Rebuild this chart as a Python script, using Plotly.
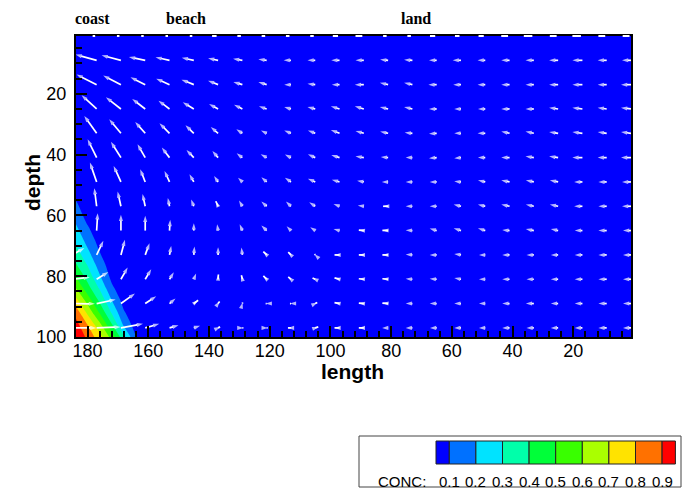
import plotly.graph_objects as go

# ---------------- data ----------------
# vector nodes (length, depth)
vec_x = [185, 177, 169, 161, 153, 145, 137, 129, 121, 113, 105, 97, 89, 81,
         73, 65, 57, 49, 41, 33, 25, 17, 9, 1]
vec_y = [1, 9, 17, 25, 33, 41, 49, 57, 65, 73, 81, 89, 97]

# velocity component along "length" (positive = towards larger length)
vel_x = [
    [4, 4, 4, 4, 4, 4, 6, 5, 5, 5, 5, 6.7, 8.3, 5, 5, 6.7, 6, 6.7, 8.3, 10, 8.3, 10, 8.3, 8.3],
    [21, 21, 19.3, 16.3, 14, 12, 10, 9.3, 8.3, 7.3, 7.7, 8.3, 8.3, 8, 8.3, 7.7, 8.3, 7.7, 8.3, 8.3, 9, 10, 9, 9],
    [20, 20, 17.7, 14.7, 13.3, 12.3, 10, 9, 8.3, 6.7, 7.7, 7.7, 9, 8.3, 8.3, 8.3, 7.7, 7.7, 8.3, 8.3, 9, 10, 9, 10],
    [15, 15, 15, 13, 11, 11, 9, 8.3, 7.7, 6.7, 7.7, 8.7, 9, 8.3, 8.3, 7.7, 6.7, 7.3, 8.3, 8.3, 9, 10, 9, 10],
    [12, 12.3, 11.7, 10, 10, 8.3, 7.3, 6, 5.7, 6.7, 7.3, 8.7, 8.3, 8, 7.7, 7.7, 6.7, 7.7, 8.3, 8.3, 9, 10, 9, 10],
    [9, 9, 10, 7.7, 7.7, 7.3, 5.7, 5.7, 6, 6, 7.3, 8.3, 8.3, 7.3, 6.7, 7.7, 6.7, 7.3, 8.3, 8.3, 9, 10, 9, 10],
    [6, 6.7, 7.3, 5, 5, 4.3, 4, 4.3, 5.3, 6, 7.3, 7.7, 6.7, 6.3, 6.7, 7, 6.7, 7.3, 8.3, 8, 8.3, 8.3, 8.3, 9],
    [3, 2.3, 3.3, 2.7, 1.7, 2.7, 2.3, 3.3, 5.3, 5, 6, 6, 6, 5, 6.7, 7, 7.3, 7.3, 8.3, 8, 8.3, 8.3, 8.3, 9],
    [1, -1, 0, 0, -0.7, 0, 1, 2.7, 5.3, 4.3, 5, 6, 5, 5.7, 6.7, 7, 7.3, 7.3, 7.3, 8, 7.3, 7.7, 8.3, 8],
    [-12, -6.7, -4, -4.3, -1.7, -0.7, 0, 1, 3.3, 2.7, 0.7, 5, 5, 5.7, 6.7, 7, 6.7, 6.3, 7.3, 7.3, 7.3, 7.7, 8.3, 8],
    [-17.5, -11.7, -6.7, -6, -4.3, -2.3, -0.3, 1, 3.3, 2.7, 2.7, 5, 5, 5.7, 6.7, 7, 6.7, 6.3, 7.3, 7.3, 7.3, 7.7, 8.3, 8],
    [-22.5, -19, -14, -11, -6, -4.3, -1.5, -0.3, 1, 1, -2, 5, 5, 5.7, 6.7, 7, 6.7, 6.3, 7.3, 8, 7.3, 7.7, 8.3, 8],
    [-24, -24, -22, -14, -9, -6.3, -2, -1, -1, 3, -3, 5, 5, 6, 6.7, 6.7, 6.7, 6.3, 7.3, 7.3, 7.3, 7.7, 8.3, 8],
]
# velocity component along "depth" (positive = deeper)
vel_z = [
    [0] * 24,
    [-6, -5.7, -5, -3.3, -3, -2.5, -2, -1.5, -1, 0, 0, 0, 0, -0.7, -0.5, 0, 0, 0, 0, 0, 0, 0, 0, 0],
    [-10, -10, -9, -7.3, -6, -5, -4, -2.7, -2.7, 0, -1, 0, 0, -2, -2, 0, 0, 0, 0, 0, 0, 0, 0, 0],
    [-14, -13.7, -11.7, -10, -8.3, -6.7, -5, -4.3, -2.7, -2, -2, -2.7, -2.7, -2, -2, 0, 0, 0, 0, 0, -1.3, -1.3, -1.3, -1.3],
    [-17, -17.3, -14, -11.3, -10, -8, -6.3, -4, -2.7, -2.7, -2.7, -3.3, -2.3, -1.7, -0.7, 0.5, 0, 0, -1.7, -1.7, -1.3, -1.3, -1.3, -1.3],
    [-18, -18.3, -15.7, -13.3, -10, -7.7, -6.7, -4.3, -3.3, -3, -3.3, -2.7, -1.3, -0.7, 0, 0.7, 0.7, 0, 0, -1.3, -1.3, 0, 0, 0],
    [-19, -19.3, -16, -12.7, -11, -7.7, -6, -4.3, -4.7, -4.3, -3.3, -2.3, -1.3, 0, 0, 0, -0.7, -1.7, -1.7, -1.7, -1.7, 0, 0, 0],
    [-17, -18, -14.7, -12.3, -8.3, -6.7, -5, -5.7, -4.7, -4.7, -4, -2.3, -0.7, 0, 0, 0, -1.7, -1.7, -1.7, -1.7, -1.7, 0, 0, 0],
    [-15, -17.3, -15.7, -14.7, -10.7, -7.3, -6.3, -6.3, -5, -4.3, -3.3, -1.7, -0.5, -0.3, -0.3, -2, -2.3, -2.3, -0.7, -1.7, -1.7, 0, 0, 0],
    [-7, -14, -15, -11.7, -9, -8.3, -7.7, -7.3, -3.3, -2.7, -0.7, 0, 0, 0, -0.5, 0, -1, 0, 0, 0, 0, 0, 0, 0],
    [-2, -7.3, -11.7, -10, -7, -5.7, -4.7, -4, -3.3, -2.3, -1.3, -1.3, -0.5, -0.5, -0.5, -0.5, -1.3, 0, 0, 0, 0, 0, 0, 0],
    [0.3, -4, -10, -7.3, -5, -3.3, -2, -1, 0, 0, -1, -1, -0.5, -0.5, 0, 0, 0, 0, 0, 0, 0, 0, 0, 0],
    [0, -1, -4, -4, -2.5, -2, -1, 0, 0, 0, -1, 0, 0, 0, 0, 0, 0, 0, 0, 0, 0, 0, 0, 0],
]

# concentration field (coarse grid)
conc_x = [1, 160, 164, 168, 172, 176, 180, 184]
conc_y = [1, 48, 52, 56, 60, 64, 68, 72, 76, 80, 84, 88, 92, 96, 100]
conc = [
    [0, 0, 0, 0, 0, 0, 0, 0],
    [0, 0, 0, 0, 0, 0, 0, 0.02],
    [0, 0, 0, 0, 0, 0, 0.01, 0.06],
    [0, 0, 0, 0, 0, 0, 0.03, 0.115],
    [0, 0, 0, 0, 0, 0.01, 0.06, 0.165],
    [0, 0, 0, 0, 0, 0.03, 0.11, 0.22],
    [0, 0, 0, 0, 0.01, 0.06, 0.16, 0.28],
    [0, 0, 0, 0, 0.02, 0.10, 0.22, 0.34],
    [0, 0, 0, 0.01, 0.04, 0.15, 0.29, 0.41],
    [0, 0, 0, 0.02, 0.07, 0.21, 0.36, 0.50],
    [0, 0, 0.01, 0.03, 0.12, 0.29, 0.44, 0.61],
    [0, 0, 0.02, 0.06, 0.20, 0.38, 0.56, 0.74],
    [0, 0, 0.03, 0.11, 0.29, 0.49, 0.68, 0.87],
    [0, 0.01, 0.05, 0.18, 0.41, 0.63, 0.80, 0.945],
    [0, 0.02, 0.10, 0.32, 0.56, 0.74, 0.875, 1.0],
]

level_colors = ['#0000FF', '#0071FF', '#00E3FF', '#00FFAA', '#00FF39',
                '#39FF00', '#AAFF00', '#FFE300', '#FF7100', '#FF0000']
level_labels = ['0.1', '0.2', '0.3', '0.4', '0.5', '0.6', '0.7', '0.8', '0.9']
top_labels = ['coast', 'beach', 'land']

# ---------------- layout geometry ----------------
W, H = 683, 491
L, R, T, B = 76, 52, 36, 154
PW, PH = W - L - R, H - T - B


def pxx(x):
    return (x - L) / PW


def pxy(y):
    return (H - B - y) / PH


SANS = 'Liberation Sans, Arial, sans-serif'
SERIF = 'Liberation Serif, Times New Roman, serif'
arrow_scale = 0.33

fig = go.Figure()

# flooded contour
fig.add_trace(go.Contour(
    x=conc_x, y=conc_y, z=conc,
    contours=dict(start=0.1, end=0.9, size=0.1, coloring='fill', showlines=False),
    colorscale=[[k / 9, c] for k, c in enumerate(level_colors)],
    line=dict(width=0, smoothing=0.6),
    showscale=False, hoverinfo='skip'))

# vector arrows (rows below the top boundary)
xs, ys, sizes = [], [], []
for j in range(1, len(vec_y)):
    for i, xv in enumerate(vec_x):
        u = vel_x[j][i]
        w = vel_z[j][i]
        xs += [xv, xv + arrow_scale * u, None]
        ys += [vec_y[j], vec_y[j] + arrow_scale * w, None]
        sizes += [0, 6.5, 0]
fig.add_trace(go.Scatter(
    x=xs, y=ys, mode='lines+markers',
    line=dict(color='white', width=1.7),
    marker=dict(symbol='arrow', size=sizes, angleref='previous', color='white',
                line=dict(width=0)),
    hoverinfo='skip', showlegend=False))

# top boundary row, drawn over the frame
for i, xv in enumerate(vec_x):
    fig.add_annotation(x=xv + arrow_scale * vel_x[0][i], y=vec_y[0], ax=xv, ay=vec_y[0],
                       xref='x', yref='y', axref='x', ayref='y', text='',
                       showarrow=True, arrowhead=0, arrowwidth=2.2,
                       arrowcolor='white', standoff=0, startstandoff=0)

axis_common = dict(
    showline=True, linewidth=2, linecolor='black', mirror=True,
    showgrid=False, zeroline=False,
    ticks='inside', ticklen=11, tickwidth=2, tickcolor='black',
    tickfont=dict(family=SANS, size=18, color='black'),
    tick0=0, dtick=20,
)
fig.update_xaxes(range=[183.8, 1], **axis_common, ticklabelstandoff=-4,
                 minor=dict(ticks='inside', dtick=4, tick0=0, ticklen=6,
                            tickwidth=1.5, tickcolor='black'))
fig.update_yaxes(range=[100, 1], **axis_common, ticklabelstandoff=4,
                 minor=dict(ticks='inside', dtick=5, tick0=0, ticklen=6,
                            tickwidth=1.5, tickcolor='black'))

anns = []
# axis titles
anns.append(dict(text='<b>length</b>', x=pxx(352), y=pxy(371),
                 font=dict(family=SANS, size=21, color='black')))
anns.append(dict(text='<b>depth</b>', x=pxx(32), y=pxy(183), textangle=-90,
                 font=dict(family=SANS, size=21, color='black')))
# top labels
for lab, xc in zip(top_labels, [92, 186, 416]):
    anns.append(dict(text='<b>' + lab + '</b>', x=pxx(xc), y=pxy(19),
                     font=dict(family=SERIF, size=16, color='black')))

shapes = []
# legend frame
shapes.append(dict(type='rect', xref='paper', yref='paper',
                   x0=pxx(359), x1=pxx(681), y0=pxy(436), y1=pxy(487),
                   line=dict(color='#444444', width=1), fillcolor='white'))
edges = [436, 449.3]
for k in range(8):
    edges.append(edges[-1] + 26.6)
edges.append(edges[-1] + 13.3)
for k, col in enumerate(level_colors):
    shapes.append(dict(type='rect', xref='paper', yref='paper',
                       x0=pxx(edges[k]), x1=pxx(edges[k + 1]),
                       y0=pxy(441), y1=pxy(464),
                       line=dict(color='#222222', width=1), fillcolor=col))
for k, lab in enumerate(level_labels):
    anns.append(dict(text=lab, x=pxx(edges[k + 1]), y=pxy(481),
                     font=dict(family=SANS, size=15, color='black')))
anns.append(dict(text='CONC:', x=pxx(402), y=pxy(481),
                 font=dict(family=SANS, size=15, color='black')))

for a in anns:
    fig.add_annotation(xref='paper', yref='paper', showarrow=False,
                       xanchor='center', yanchor='middle', **a)

fig.update_layout(
    width=W, height=H, margin=dict(l=L, r=R, t=T, b=B, pad=0),
    paper_bgcolor='white', plot_bgcolor='white',
    shapes=shapes, showlegend=False,
)

fig.write_html('out.html', config={'displayModeBar': False},
               post_script="document.body.style.margin='0px';"
                           "document.body.style.overflow='hidden';")
